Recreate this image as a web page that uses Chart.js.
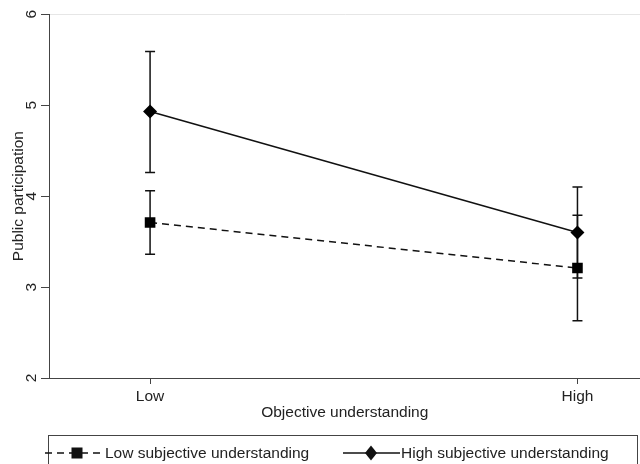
<!DOCTYPE html>
<html><head><meta charset="utf-8">
<script src="https://cdn.jsdelivr.net/npm/chart.js@4"></script>
<style>html,body{margin:0;padding:0;background:#fff;overflow:hidden}</style>
</head><body>
<canvas id="c" width="648" height="464"></canvas>
<script>
const categories = ['Low', 'High'];
const seriesNames = ['Low subjective understanding', 'High subjective understanding'];
const lowSubjMean = [3.71, 3.21];
const lowSubjLower = [3.36, 2.63];
const lowSubjUpper = [4.06, 3.79];
const highSubjMean = [4.93, 3.60];
const highSubjLower = [4.26, 3.10];
const highSubjUpper = [5.59, 4.10];
const yTicks = [2, 3, 4, 5, 6];
const xTicks = [0, 1];

const FONT = "'Liberation Sans', Arial, Helvetica, sans-serif";
const FS = 15.5;
const AX = '#444';
const TXT = '#222';

const errBars = [
  { lower: lowSubjLower, upper: lowSubjUpper },
  { lower: highSubjLower, upper: highSubjUpper }
];

const errorBarPlugin = {
  id: 'errorBars',
  beforeDatasetsDraw(chart) {
    const ctx = chart.ctx, xs = chart.scales.x, ys = chart.scales.y;
    ctx.save();
    ctx.strokeStyle = '#111';
    ctx.lineWidth = 1.5;
    errBars.forEach(eb => {
      categories.forEach((c, i) => {
        const px = xs.getPixelForValue(i);
        const y1 = ys.getPixelForValue(eb.lower[i]);
        const y2 = ys.getPixelForValue(eb.upper[i]);
        ctx.beginPath();
        ctx.moveTo(px, y1); ctx.lineTo(px, y2);
        ctx.moveTo(px - 5, y1); ctx.lineTo(px + 5, y1);
        ctx.moveTo(px - 5, y2); ctx.lineTo(px + 5, y2);
        ctx.stroke();
      });
    });
    ctx.restore();
  }
};

const legendPlugin = {
  id: 'boxLegend',
  afterDraw(chart) {
    const ctx = chart.ctx;
    ctx.save();
    ctx.strokeStyle = AX;
    ctx.lineWidth = 1;
    ctx.strokeRect(48.5, 435.5, 589, 40);
    const ly = 453;
    ctx.strokeStyle = '#111';
    ctx.fillStyle = '#111';
    ctx.lineWidth = 1.5;
    ctx.setLineDash([7, 5]);
    ctx.beginPath(); ctx.moveTo(45, ly); ctx.lineTo(102, ly); ctx.stroke();
    ctx.setLineDash([]);
    ctx.fillRect(77 - 5.5, ly - 5.5, 11, 11);
    ctx.beginPath(); ctx.moveTo(343, ly); ctx.lineTo(400, ly); ctx.stroke();
    ctx.beginPath();
    ctx.moveTo(371, ly - 7.5); ctx.lineTo(377, ly); ctx.lineTo(371, ly + 7.5); ctx.lineTo(365, ly);
    ctx.closePath(); ctx.fill();
    ctx.fillStyle = TXT;
    ctx.font = FS + 'px ' + FONT;
    ctx.textBaseline = 'middle';
    ctx.fillText(seriesNames[0], 105, ly + 1);
    ctx.fillText(seriesNames[1], 401, ly + 1);
    ctx.restore();
  }
};

new Chart(document.getElementById('c'), {
  type: 'line',
  data: {
    datasets: [
      {
        label: seriesNames[0],
        data: lowSubjMean.map((v, i) => ({ x: i, y: v })),
        borderColor: '#111', backgroundColor: '#111',
        borderWidth: 1.5, borderDash: [7, 5],
        pointStyle: 'rect', pointRadius: 7.5, pointBorderWidth: 0,
        pointBackgroundColor: '#000', tension: 0
      },
      {
        label: seriesNames[1],
        data: highSubjMean.map((v, i) => ({ x: i, y: v })),
        borderColor: '#111', backgroundColor: '#111',
        borderWidth: 1.5,
        pointStyle: 'rectRot', pointRadius: 7, pointBorderWidth: 0,
        pointBackgroundColor: '#000', tension: 0
      }
    ]
  },
  options: {
    responsive: false,
    animation: false,
    devicePixelRatio: 1,
    layout: { padding: { left: 0, right: 0, top: 13, bottom: 42 } },
    plugins: { legend: { display: false }, tooltip: { enabled: false } },
    scales: {
      x: {
        type: 'linear', min: -0.2365, max: 1.1475,
        afterBuildTicks: s => { s.ticks = xTicks.map(v => ({ value: v })); },
        ticks: { callback: v => categories[v], font: { size: FS, family: FONT }, color: TXT, padding: 3, maxRotation: 0, autoSkip: false },
        grid: { drawOnChartArea: false, tickLength: 6, tickColor: AX, color: AX },
        border: { color: AX, width: 1 },
        title: { display: true, text: 'Objective understanding', font: { size: FS, family: FONT }, color: TXT, padding: { top: 0, bottom: 0 } },
        afterFit: s => { s.height = 44; }
      },
      y: {
        type: 'linear', min: 2, max: 6,
        afterBuildTicks: s => { s.ticks = yTicks.map(v => ({ value: v })); },
        ticks: { minRotation: 90, maxRotation: 90, padding: 5, font: { size: FS, family: FONT }, color: TXT, crossAlign: 'center' },
        grid: { drawOnChartArea: true, tickLength: 8, tickColor: AX,
                color: c => (c.tick && c.tick.value === 6) ? '#e6e6e6' : 'rgba(0,0,0,0)' },
        border: { color: AX, width: 1 },
        title: { display: true, text: 'Public participation', font: { size: FS, family: FONT }, color: TXT, padding: { top: 9, bottom: 0 } },
        afterFit: s => { s.width = 49; }
      }
    }
  },
  plugins: [errorBarPlugin, legendPlugin]
});
</script>
</body></html>
